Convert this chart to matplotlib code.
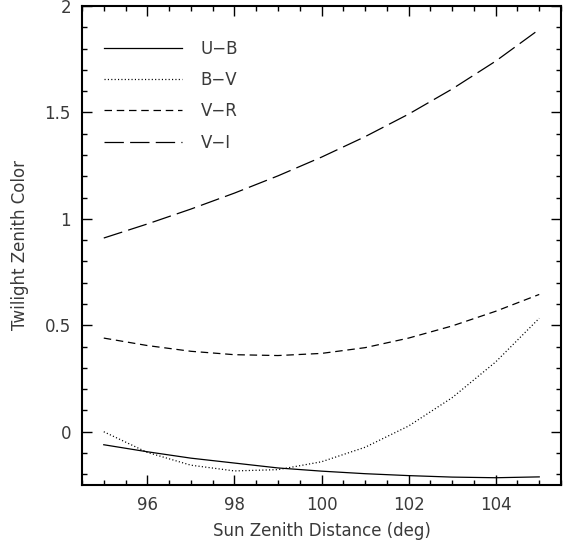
import matplotlib
matplotlib.use("Agg")
import matplotlib.pyplot as plt
from matplotlib.ticker import MultipleLocator

# sun zenith distance (deg)
zenith = [95, 96, 97, 98, 99, 100, 101, 102, 103, 104, 105]

# twilight zenith colours
u_b = [-0.061, -0.094, -0.124, -0.147, -0.170, -0.185, -0.197, -0.206, -0.213, -0.216, -0.212]
b_v = [0.000, -0.097, -0.157, -0.184, -0.178, -0.141, -0.073, 0.027, 0.160, 0.328, 0.533]
v_r = [0.440, 0.405, 0.378, 0.362, 0.358, 0.368, 0.395, 0.440, 0.497, 0.566, 0.645]
v_i = [0.910, 0.976, 1.046, 1.121, 1.202, 1.290, 1.386, 1.492, 1.610, 1.741, 1.890]

plt.rcParams["font.family"] = ["DejaVu Sans"]
txt = "#3a3a3a"
fs = 12

fig = plt.figure(figsize=(5.71, 5.44), dpi=100)
ax = fig.add_axes([0.1436, 0.1085, 0.8389, 0.8805])

ax.plot(zenith, u_b, color="black", lw=0.9, label="U\u2212B")
ax.plot(zenith, b_v, color="black", lw=0.9, dashes=(0.9, 1.8), label="B\u2212V")
ax.plot(zenith, v_r, color="black", lw=0.9, dashes=(6, 3.8), label="V\u2212R")
ax.plot(zenith, v_i, color="black", lw=0.9, dashes=(15.5, 5), label="V\u2212I")

ax.set_xlim(94.5, 105.5)
ax.set_ylim(-0.25, 2)
ax.xaxis.set_major_locator(MultipleLocator(2))
ax.xaxis.set_minor_locator(MultipleLocator(0.5))
ax.yaxis.set_major_locator(MultipleLocator(0.5))
ax.yaxis.set_minor_locator(MultipleLocator(0.1))
ax.set_yticks([0, 0.5, 1, 1.5, 2])
ax.set_yticklabels(["0", "0.5", "1", "1.5", "2"])

ax.tick_params(which="both", direction="in", top=True, right=True,
               colors="black", labelcolor=txt, labelsize=fs)
ax.tick_params(which="major", length=7, width=1)
ax.tick_params(which="minor", length=3.5, width=1)
ax.tick_params(axis="x", pad=8)
ax.tick_params(axis="y", pad=8)
for s in ax.spines.values():
    s.set_linewidth(1.5)

ax.set_xlabel("Sun Zenith Distance (deg)", fontsize=fs, color=txt, labelpad=6)
ax.set_ylabel("Twilight Zenith Color", fontsize=fs, color=txt, labelpad=11)

ax.legend(loc="upper left", bbox_to_anchor=(0.046, 0.93), frameon=False,
          borderpad=0, borderaxespad=0,
          handlelength=4.7, handletextpad=1.1, labelspacing=0.8,
          fontsize=fs, labelcolor=txt)

fig.savefig("out.png", dpi=100)
